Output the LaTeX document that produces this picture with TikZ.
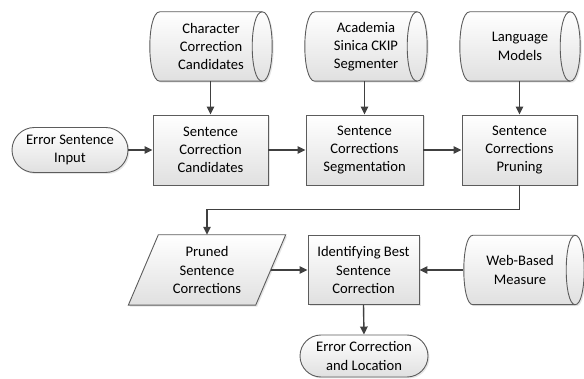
\documentclass[tikz,border=0pt]{standalone}
\usepackage{fontspec}
\setmainfont{Carlito}
\usetikzlibrary{arrows.meta,shapes.misc,shadows,calc}
\definecolor{edge}{HTML}{5C5C5C}
\definecolor{arrc}{HTML}{404040}
\definecolor{fillb}{HTML}{E0E0E0}
\tikzset{
  lbl/.style={align=center, font=\fontsize{14.6}{18.3}\selectfont, inner sep=0pt, text=black},
  shad/.style={drop shadow={shadow xshift=1.5pt, shadow yshift=-1.5pt, fill=black!25, opacity=0.4}},
  filled/.style={draw=edge, line width=0.9pt, top color=white, bottom color=fillb, shad},
  boxnode/.style={lbl, rectangle, filled, minimum width=#1, minimum height=70},
  termnode/.style={lbl, rounded rectangle, filled, minimum width=#1},
  plain/.style={lbl, rectangle, minimum width=#1, minimum height=69},
  arr/.style={draw=arrc, line width=1.4pt, -{Triangle[length=8pt,width=7.5pt]}},
}
\newcommand\cylout[2]{%
  \path[filled] (#1.north west) -- (#1.north east)
    .. controls +(#2*1.333,0) and +(#2*1.333,0) .. (#1.south east)
    -- (#1.south west)
    .. controls +(-#2*1.333,0) and +(-#2*1.333,0) .. (#1.north west) -- cycle;
  \draw[edge, line width=0.9pt] (#1.north east)
    .. controls +(-#2*1.333,0) and +(-#2*1.333,0) .. (#1.south east);
}
\begin{document}
\begin{tikzpicture}[x=1pt,y=-1pt]
\useasboundingbox (0,0) rectangle (584,379);
% data stores (cylinders): outlines first, then text nodes
\node[plain=102] (c1) at (211,46.5) {};
\node[plain=102] (c2) at (366,46.5) {};
\node[plain=100] (c3) at (520,46.5) {};
\node[plain=102] (web) at (524,270) {};
\cylout{c1}{10}
\cylout{c2}{10}
\cylout{c3}{10}
\cylout{web}{9}
\node[lbl] at (c1) {Character\\Correction\\Candidates};
\node[lbl] at (c2) {Academia\\Sinica CKIP\\Segmenter};
\node[lbl] at (c3) {Language\\Models};
\node[lbl] at ($(web)+(-4,0)$) {Web-Based\\Measure};
% process boxes
\node[boxnode=115] (b1) at (210.5,150) {Sentence\\Correction\\Candidates};
\node[boxnode=117] (b2) at (364.5,150) {Sentence\\Corrections\\Segmentation};
\node[boxnode=115] (b3) at (519.5,150) {Sentence\\Corrections\\Pruning};
\node[termnode=116, minimum height=45] (in) at (70,150) {Error Sentence\\Input};
% parallelogram
\node[plain=127, minimum height=70] (para) at (207,270) {};
\path[filled] ($(para.north west)+(15,0)$) -- ($(para.north east)+(15,0)$)
   -- ($(para.south east)+(-15,0)$) -- ($(para.south west)+(-15,0)$) -- cycle;
\node[lbl] at (para) {Pruned\\Sentence\\Corrections};
\node[boxnode=111, minimum height=69] (best) at (363.5,270) {Identifying Best\\Sentence\\Correction};
\node[termnode=128, minimum height=42] (out) at (364,356) {Error Correction\\and Location};
% connectors
\draw[arr] (b1.north |- c1.south) -- (b1.north);
\draw[arr] (b2.north |- c2.south) -- (b2.north);
\draw[arr] (b3.north |- c3.south) -- (b3.north);
\draw[arr] (in.east) -- (b1.west);
\draw[arr] (b1.east) -- (b2.west);
\draw[arr] (b2.east) -- (b3.west);
\draw[arr] (b3.south) -- ++(0,24) -| (para.north);
\draw[arr] (para.east) -- (best.west);
\draw[arr] ($(web.west)+(-10,0)$) -- (best.east);
\draw[arr] (best.south) -- (out.north);
\end{tikzpicture}
\end{document}
